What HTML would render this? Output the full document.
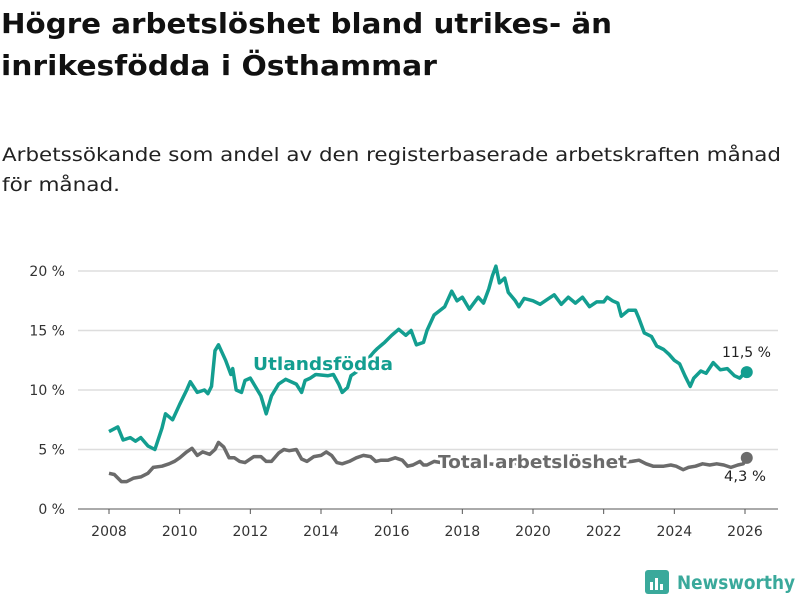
<!DOCTYPE html>
<html><head><meta charset="utf-8"><style>
body{margin:0;background:#fff;width:800px;height:600px;overflow:hidden;font-family:"DejaVu Sans","Liberation Sans",sans-serif}
svg text{font-family:"DejaVu Sans","Liberation Sans",sans-serif}
</style></head><body>
<svg width="800" height="600" xmlns="http://www.w3.org/2000/svg">
<text x="1" y="33" font-size="28" font-weight="bold" fill="#111" textLength="611" lengthAdjust="spacingAndGlyphs">Högre arbetslöshet bland utrikes- än</text>
<text x="1" y="75" font-size="28" font-weight="bold" fill="#111" textLength="436" lengthAdjust="spacingAndGlyphs">inrikesfödda i Östhammar</text>
<text x="2" y="161" font-size="19" fill="#222" textLength="779" lengthAdjust="spacingAndGlyphs">Arbetssökande som andel av den registerbaserade arbetskraften månad</text>
<text x="2" y="191" font-size="19" fill="#222" textLength="118" lengthAdjust="spacingAndGlyphs">för månad.</text>
<g id="grid"></g><g id="xaxis"></g><g id="series"></g><g id="labels"></g>
<g>
<rect x="645" y="570" width="24" height="24" rx="3" fill="#3aa99b"/>
<rect x="650" y="582" width="3" height="8" fill="#fff"/><rect x="655" y="578" width="3" height="12" fill="#fff"/><rect x="660" y="584" width="3" height="6" fill="#fff"/>
<text x="677" y="589" font-size="19" font-weight="bold" fill="#3aa99b" textLength="118" lengthAdjust="spacingAndGlyphs">Newsworthy</text>
</g>
</svg>
<script>
const yTicks=[0,5,10,15,20];
const yTickLabels=["0 %","5 %","10 %","15 %","20 %"];
const xTicks=[2008,2010,2012,2014,2016,2018,2020,2022,2024,2026];
const utlDates=[2008.0,2008.25,2008.4,2008.6,2008.75,2008.9,2009.1,2009.3,2009.5,2009.6,2009.8,2010.0,2010.2,2010.3,2010.5,2010.7,2010.8,2010.9,2011.0,2011.1,2011.3,2011.45,2011.5,2011.6,2011.75,2011.85,2012.0,2012.1,2012.3,2012.45,2012.6,2012.8,2013.0,2013.3,2013.45,2013.55,2013.7,2013.85,2014.2,2014.35,2014.5,2014.6,2014.75,2014.85,2015.0,2015.3,2015.5,2015.6,2015.8,2016.0,2016.2,2016.4,2016.55,2016.7,2016.9,2017.0,2017.2,2017.5,2017.7,2017.85,2018.0,2018.2,2018.3,2018.45,2018.6,2018.75,2018.85,2018.95,2019.05,2019.2,2019.3,2019.5,2019.6,2019.75,2020.0,2020.2,2020.4,2020.6,2020.8,2021.0,2021.2,2021.4,2021.6,2021.8,2022.0,2022.1,2022.25,2022.4,2022.5,2022.7,2022.9,2023.0,2023.15,2023.35,2023.5,2023.7,2023.85,2024.0,2024.15,2024.3,2024.45,2024.55,2024.75,2024.9,2025.1,2025.3,2025.5,2025.7,2025.85,2025.95,2026.05];
const utlValues=[6.5,6.9,5.8,6.0,5.7,6.0,5.3,5.0,6.8,8.0,7.5,8.8,10.0,10.7,9.8,10.0,9.7,10.3,13.3,13.8,12.5,11.3,11.8,10.0,9.8,10.8,11.0,10.5,9.5,8.0,9.5,10.5,10.9,10.5,9.8,10.8,11.0,11.3,11.2,11.3,10.5,9.8,10.2,11.2,11.5,12.5,13.2,13.5,14.0,14.6,15.1,14.6,15.0,13.8,14.0,15.0,16.3,17.0,18.3,17.5,17.8,16.8,17.2,17.8,17.3,18.5,19.6,20.4,19.0,19.4,18.2,17.5,17.0,17.7,17.5,17.2,17.6,18.0,17.2,17.8,17.3,17.8,17.0,17.4,17.4,17.8,17.5,17.3,16.2,16.7,16.7,16.0,14.8,14.5,13.7,13.4,13.0,12.5,12.2,11.2,10.3,11.0,11.6,11.4,12.3,11.7,11.8,11.2,11.0,11.3,11.5];
const totDates=[2008.0,2008.15,2008.35,2008.5,2008.7,2008.9,2009.1,2009.25,2009.5,2009.7,2009.85,2010.0,2010.2,2010.35,2010.5,2010.65,2010.85,2011.0,2011.1,2011.25,2011.4,2011.55,2011.7,2011.85,2012.1,2012.3,2012.45,2012.6,2012.8,2012.95,2013.1,2013.3,2013.45,2013.6,2013.8,2014.0,2014.15,2014.3,2014.45,2014.6,2014.8,2015.0,2015.2,2015.4,2015.55,2015.7,2015.9,2016.1,2016.3,2016.45,2016.6,2016.8,2016.9,2017.0,2017.2,2017.4,2017.7,2018.2,2018.7,2019.2,2019.7,2020.2,2020.7,2021.2,2021.7,2022.2,2022.5,2022.8,2023.0,2023.2,2023.4,2023.7,2023.9,2024.05,2024.25,2024.4,2024.6,2024.8,2025.0,2025.2,2025.4,2025.6,2025.8,2025.95,2026.05];
const totValues=[3.0,2.9,2.3,2.3,2.6,2.7,3.0,3.5,3.6,3.8,4.0,4.3,4.8,5.1,4.5,4.8,4.6,5.0,5.6,5.2,4.3,4.3,4.0,3.9,4.4,4.4,4.0,4.0,4.7,5.0,4.9,5.0,4.2,4.0,4.4,4.5,4.8,4.5,3.9,3.8,4.0,4.3,4.5,4.4,4.0,4.1,4.1,4.3,4.1,3.6,3.7,4.0,3.7,3.7,4.0,3.9,3.9,3.6,3.8,3.7,3.9,4.0,4.2,4.0,3.8,3.8,3.9,4.0,4.1,3.8,3.6,3.6,3.7,3.6,3.3,3.5,3.6,3.8,3.7,3.8,3.7,3.5,3.7,3.8,4.3];
const NS="http://www.w3.org/2000/svg";
const x=t=>109+(t-2008)*(745-109)/18;
const y=v=>509-v*11.9;
function mk(tag,attrs,parent,txt){const e=document.createElementNS(NS,tag);for(const k in attrs)e.setAttribute(k,attrs[k]);if(txt!==undefined)e.textContent=txt;document.getElementById(parent).appendChild(e);return e;}
yTicks.forEach((v,i)=>{
 const l=mk('line',{x1:78,x2:778,y1:y(v),y2:y(v),stroke:v===0?'#555':'#ddd','stroke-width':v===0?1:1.5},'grid');
 
 
 const t=mk('text',{x:65,y:y(v)+5,'text-anchor':'end','font-size':14,fill:'#333'},'grid',yTickLabels[i]);
 
 
});
xTicks.forEach(yr=>{
 const l=mk('line',{x1:x(yr),x2:x(yr),y1:509,y2:514,stroke:'#555'},'xaxis');
 
 
 const t=mk('text',{x:x(yr),y:536,'text-anchor':'middle','font-size':14,fill:'#333'},'xaxis',String(yr));
 
 
});
function line(d,v,col,name){
 const p=mk('path',{d:d.map((t,i)=>(i?'L':'M')+x(t).toFixed(1)+','+y(v[i]).toFixed(1)).join(''),fill:'none',stroke:col,'stroke-width':3.5,'stroke-linejoin':'round'},'series');
 
 
 const c=mk('circle',{cx:x(d[d.length-1]),cy:y(v[v.length-1]),r:6,fill:col},'series');
 
 
}
line(totDates,totValues,'#6b6b6b','total-line');
line(utlDates,utlValues,'#139e90','utlandsfodda-line');
const lab=[[253,370,'Utlandsfödda','#139e90',140,'utlandsfodda-label',0],[438,468,'Total arbetslöshet','#6b6b6b',189,'total-label',0],[771,357,'11,5 %','#222',49,'utl-value-label',1],[766,481,'4,3 %','#222',42,'total-value-label',1]];
lab.forEach(a=>{
 const t=mk('text',{x:a[0],y:a[1],'font-size':a[6]?14:18,'font-weight':a[6]?'normal':'bold',fill:a[3],stroke:'#fff','stroke-width':a[6]?0:5,'paint-order':'stroke','stroke-linejoin':'round','text-anchor':a[6]?'end':'start',textLength:a[4],lengthAdjust:'spacingAndGlyphs'},'labels',a[2]);
 
 
});
</script>
</body></html>
